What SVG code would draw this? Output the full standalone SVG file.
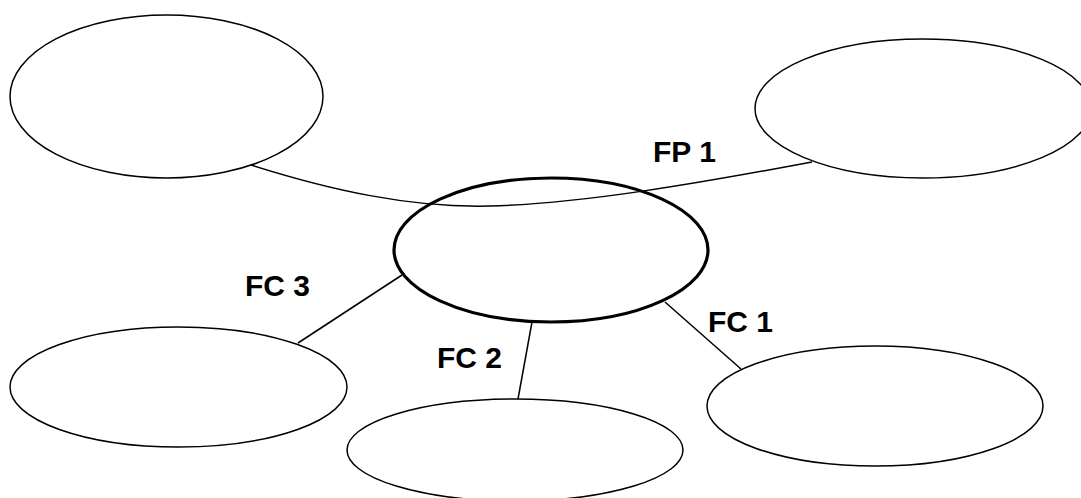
<svg xmlns="http://www.w3.org/2000/svg" width="1081" height="498" viewBox="0 0 1081 498">
<style>
.n{fill:#fff;stroke:#000;stroke-width:1.5}
.c{fill:none;stroke:#000;stroke-width:3.2}
.e{fill:none;stroke:#000;stroke-width:1.5}
.t{font-family:"Liberation Sans",Arial,sans-serif;font-weight:bold;font-size:30px;fill:#000}
</style>
<rect width="1081" height="498" fill="#fff"/>
<g id="connectors">
<path class="e" d="M251,165 C330,190 410,208 490,206 C580,204 700,183 812,162"/>
<line class="e" x1="402" y1="275" x2="298" y2="343"/>
<line class="e" x1="532" y1="322" x2="518" y2="399"/>
<line class="e" x1="665" y1="302" x2="741" y2="369"/>
</g>
<g id="node-top-left"><ellipse class="n" cx="166.5" cy="96.5" rx="156.5" ry="81.5"/></g>
<g id="node-top-right"><ellipse class="n" cx="923" cy="108.5" rx="168" ry="69.5"/></g>
<g id="node-center"><ellipse class="c" cx="551" cy="250" rx="157" ry="72"/></g>
<g id="node-bottom-left"><ellipse class="n" cx="178.5" cy="387" rx="168.5" ry="60"/></g>
<g id="node-bottom-middle"><ellipse class="n" cx="515" cy="450" rx="168" ry="51"/></g>
<g id="node-bottom-right"><ellipse class="n" cx="875" cy="406" rx="168" ry="60"/></g>
<g id="labels">
<text class="t" x="653" y="162">FP 1</text>
<text class="t" x="245" y="296">FC 3</text>
<text class="t" x="437" y="368">FC 2</text>
<text class="t" x="708" y="332">FC 1</text>
</g>
</svg>
